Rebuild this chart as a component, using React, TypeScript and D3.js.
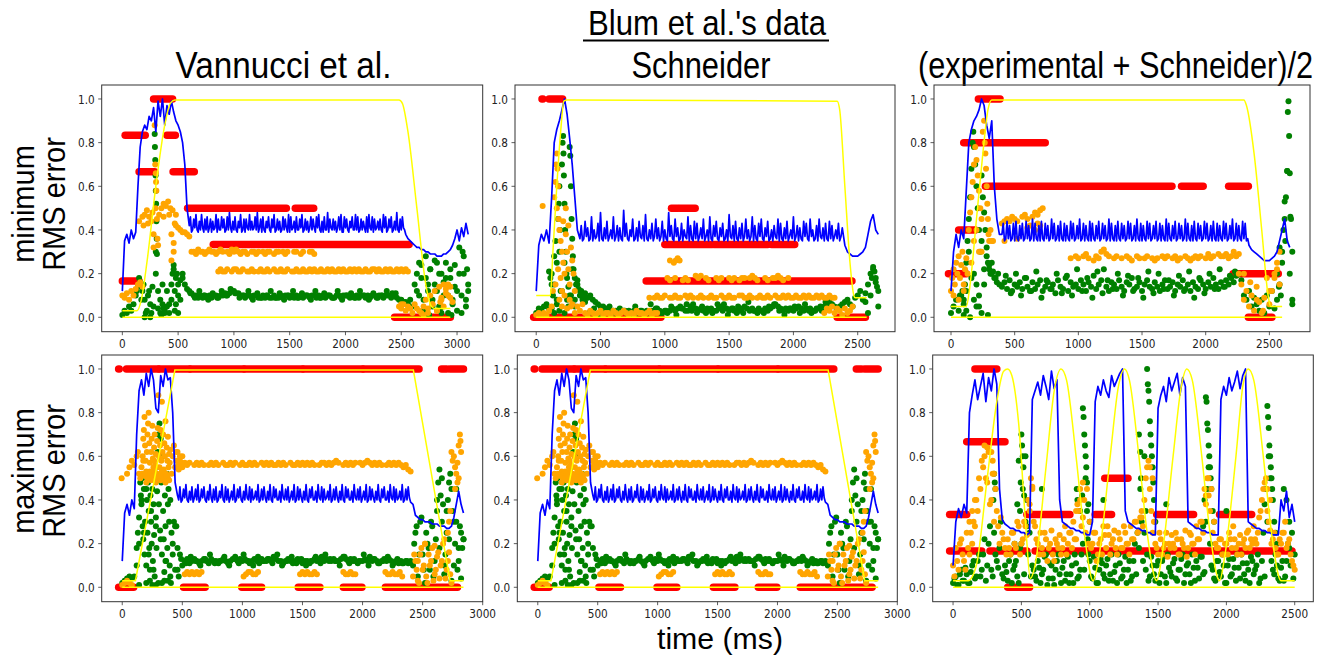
import React from "react";
import * as d3 from "d3";

type Pt = [number, number];
type Run = [number, number, number];

// ---------- labels & ticks ----------
const groupTitle = "Blum et al.'s data";
const columnTitles = ["Vannucci et al.", "Schneider", "(experimental + Schneider)/2"];
const rowLabels = [["minimum", "RMS error"], ["maximum", "RMS error"]];
const xLabel = "time (ms)";
const ticks3000 = [0, 500, 1000, 1500, 2000, 2500, 3000];
const ticks2500 = [0, 500, 1000, 1500, 2000, 2500];
const yTicks = [0, 0.2, 0.4, 0.6, 0.8, 1.0];

// ---------- data (values in hundredths; sampled series use 20 ms steps, steady blue stretches 10 ms) ----------
// Vannucci et al., minimum RMS error
const vanMinBlueHead = [
  12, 35, 38, 34, 40, 36, 39, 60, 78, 85,
  88, 86, 92, 90, 96, 85, 99, 92, 100, 88,
  97, 93, 99, 94, 90, 88, 85, 80, 70, 50,
];
const vanMinBlueSteady = [
  42, 46, 39, 40, 45, 41, 47, 40, 39, 44,
  40, 47, 41, 39, 45, 40, 46, 39, 41, 45,
  39, 44, 40, 41, 47, 39, 45, 40, 40, 46,
  41, 45, 39, 40, 46, 40, 48, 41, 39, 44,
  40, 46, 40, 39, 44, 41, 47, 39, 40, 45,
  39, 45, 41, 40, 47, 40, 44, 40, 41, 46,
  40, 48, 39, 41, 45, 39, 46, 40, 39, 44,
  41, 46, 40, 39, 45, 41, 47, 39, 40, 45,
  40, 44, 39, 40, 46, 40, 45, 41, 39, 47,
  39, 46, 40, 41, 44, 39, 46, 40, 40, 45,
  41, 47, 39, 40, 45, 40, 44, 39, 41, 46,
  40, 45, 41, 39, 46, 41, 47, 40, 39, 44,
  39, 46, 40, 40, 48, 39, 45, 41, 40, 45,
  40, 44, 39, 41, 46, 40, 47, 39, 39, 46,
  41, 45, 40, 39, 44, 41, 46, 40, 40, 47,
  40, 46, 39, 40, 45, 40, 44, 41, 39, 46,
  39, 47, 41, 40, 46, 39, 45, 40, 41, 44,
  40, 45, 40, 39, 47, 41, 46, 39, 40, 45,
  41, 46, 39, 40, 44, 40, 48, 40, 39, 45,
  40, 46, 41, 40, 38,
];
const vanMinBlueTail = [36, 35, 34, 33, 32, 32, 31, 31, 30, 30, 29, 29, 29, 28, 28, 28, 29, 29, 30, 31, 33, 36, 40, 35, 41, 37, 43, 38];
const vanMinYellow = [0, 3, 130, 3, 170, 8, 220, 25, 300, 60, 380, 88, 430, 98, 470, 99.5, 2480, 99.5, 2510, 98, 2560, 85, 2640, 50, 2720, 15, 2770, 5, 2800, 4, 2940, 4];
const vanMinYellowBase = [0, 0, 2940, 0];
const vanMinGreen = [
  1, 3, 2, 5, 3, 6, 10, 14, 16, 12,
  8, 3, 12, 2, 5, 30, 4, 2, 6, 3,
  5, 2, 8, 22, 18, 15, 17, 18, 15, 13,
  12, 11, 10, 10, 9, 10, 9, 10, 9, 10,
  9, 10, 10, 9, 10, 10, 11, 10, 11, 12,
  12, 11, 11, 10, 10, 9, 10, 10, 9, 10,
  10, 9, 9, 10, 9, 10, 9, 9, 10, 9,
  9, 10, 9, 10, 10, 9, 10, 9, 10, 9,
  10, 9, 10, 10, 9, 10, 10, 9, 10, 9,
  10, 9, 10, 10, 9, 9, 10, 10, 9, 10,
  10, 10, 9, 10, 9, 10, 9, 10, 10, 9,
  10, 9, 10, 10, 9, 10, 10, 9, 10, 10,
  10, 11, 10, 9, 8, 8, 7, 7, 6, 8,
  5, 15, 20, 10, 24, 3, 18, 12, 22, 8,
  15, 25, 5, 20, 10, 18, 2, 22, 8, 14,
  3, 20, 10, 28, 5, 15,
];
const vanMinGreenBand = [11, 9, 12, 10, 8, 11, 9, 12, 10, 13, 11, 9, 10, 12, 8, 11, 9, 10, 12, 9, 11, 8, 10, 12, 9, 11, 10, 8, 12, 9, 11, 10, 9, 12, 8, 10, 11, 9, 12, 10, 8, 11, 9, 10, 12, 9, 11, 8];
const vanMinGreenScatter = [
  130, 12, 150, 18, 170, 8, 190, 15, 210, 2, 230, 10, 250, 6, 270, 14, 290, 84, 292, 78, 295, 72, 298, 65, 300, 58, 303, 52, 305, 44, 308, 36,
  310, 29, 300, 20, 320, 12, 340, 8, 360, 15, 380, 2, 400, 12, 420, 6, 440, 15, 450, 20, 460, 24, 470, 12, 480, 6, 490, 20, 500, 10, 520, 8,
  540, 20, 350, 1, 370, 4, 470, 3, 500, 2, 200, 0, 250, 0, 2640, 12, 2660, 25, 2680, 18, 2700, 8, 2720, 28, 2740, 15, 2760, 22, 2780, 5,
  2800, 26, 2820, 12, 2840, 20, 2860, 2, 2880, 16, 2900, 25, 2920, 10, 2940, 18, 2960, 6, 2980, 24, 3000, 12, 3020, 32, 3040, 2, 3060, 20,
  3080, 8, 3100, 12, 2700, 2, 2750, 1, 2850, 4, 2950, 1, 3050, 30, 3090, 22,
];
const vanMinOrangeHigh = [
  30, 30, 29, 31, 30, 30, 29, 30, 31, 30,
  30, 29, 30, 31, 30, null, 30, 29, 31, 30,
  31, 30, 29, 30, 30, 29, null, 30, 30, 29,
  30, null, 30, 29, 30, 30, null, 29, 30, 30,
  null, 30, 29, 30, null, null, 30, 30, null, 29,
  30, null, null, 30, 30, 29,
];
const vanMinOrangeLow = [
  21, 22, 21, 21, 22, null, 21, 22, 22, 21,
  21, 22, null, 21, 21, 22, 21, null, 21, 22,
  21, 21, 22, 21, null, 22, 21, 21, 22, 21,
  21, 22, null, 21, 21, 22, 21, 21, 22, 21,
  21, 22, 21, 22, 21, 21, 22, 21, 21, 22,
  21, 22, 21, 21, 22, 21, 22, 21, 21, 22,
  21, 22, 21, 22, 21, 21, 22, 21, 21, 22,
  22, 21, 22, 21, 21, 22, 21, 22, 21, 21,
  22, 21, 22, 21, 22, 21,
];
const vanMinOrangeTail = [5, 4, 6, 3, 5, 4, 2, 6, 4, 3, 2, 5, 8, 4, 10, 6, 12, 3, 14, 8, 5, 11, 15, 9, 7];
const vanMinOrangeScatter = [
  0, 10, 20, 9, 40, 11, 60, 8, 80, 12, 100, 10, 120, 13, 140, 15, 160, 16, 180, 14, 150, 44, 180, 46, 200, 47, 220, 49, 240, 46, 260, 44,
  190, 42, 230, 43, 270, 48, 280, 38, 290, 88, 295, 70, 300, 66, 302, 62, 305, 58, 298, 50, 310, 45, 315, 36, 320, 33, 280, 32, 330, 47,
  350, 50, 370, 52, 390, 51, 410, 53, 430, 50, 450, 49, 370, 46, 420, 47, 440, 38, 460, 34, 480, 42, 500, 41, 520, 40, 540, 39, 560, 39,
  580, 38, 600, 37, 440, 26, 460, 30, 470, 43, 480, 47, 2700, 1, 2740, 2, 2780, 6, 2820, 3, 2860, 9, 2900, 13, 2920, 10, 2940, 14,
  2880, 15, 2850, 7, 2500, 6,
];
const vanMinRed = [0, 150, 1 / 6, 25, 205, 5 / 6, 150, 290, 2 / 3, 280, 450, 1, 400, 475, 5 / 6, 455, 645, 2 / 3, 585, 1470, 0.5, 1550, 1715, 0.5, 815, 2570, 1 / 3, 2440, 2940, 0];

// Schneider, minimum RMS error
const schMinBlueHead = [12, 33, 38, 35, 40, 34, 55, 80, 86, 90, 95, 100, 93, 82, 70, 55, 40];
const schMinBlueSteady = [
  36, 42, 35, 36, 44, 37, 41, 35, 36, 46,
  35, 40, 36, 37, 43, 35, 48, 36, 35, 41,
  36, 44, 35, 37, 40, 36, 46, 35, 37, 42,
  35, 41, 36, 35, 49, 37, 43, 36, 35, 40,
  37, 45, 35, 36, 41, 35, 44, 37, 36, 42,
  35, 47, 36, 35, 40, 36, 43, 35, 37, 45,
  36, 41, 35, 37, 44, 35, 40, 36, 35, 48,
  37, 42, 36, 35, 45, 37, 41, 35, 36, 43,
  35, 40, 37, 36, 46, 35, 42, 36, 35, 44,
  36, 43, 35, 37, 41, 36, 45, 35, 37, 40,
  35, 46, 36, 35, 42, 37, 44, 36, 35, 41,
  37, 43, 35, 36, 40, 35, 47, 37, 36, 42,
  35, 44, 36, 35, 41, 36, 43, 35, 37, 45,
  36, 40, 35, 37, 46, 35, 42, 36, 35, 43,
  37, 45, 36, 35, 41, 37, 44, 35, 36, 40,
  35, 42, 37, 36, 45, 35, 43, 36, 35, 41,
  36, 44, 35, 37, 40, 36, 46, 35, 37, 42,
  35, 41, 36, 35, 44, 37, 43, 36, 35, 45,
  37, 40, 35, 36, 42, 35, 45, 37, 36, 41,
  35, 43, 36, 35, 44, 36, 42, 35, 37, 40,
  36, 43, 35, 37, 41,
];
const schMinBlueTail = [33, 30, 29, 28, 28, 28, 29, 30, 32, 38, 44, 47, 40, 38];
const schMinYellow = [0, 10, 110, 10, 130, 30, 160, 60, 190, 85, 215, 99, 240, 99.5, 2340, 99, 2360, 95, 2400, 60, 2440, 25, 2470, 10, 2480, 9, 2570, 9];
const schMinYellowBase = [0, 0, 2570, 0];
const schMinGreen = [
  2, 4, 3, 5, 6, 4, 20, 15, 8, 30,
  12, 25, 18, 10, 22, 8, 15, 12, 10, 11,
  9, 10, 8, 7, 6, 5, 5, 4, 4, 3,
  3, 3, 2, 3, 3, 2, 3, 2, 3, 2,
  2, 3, 2, 3, 2, 3, 3, 4, 3, 2,
  3, 2, 3, 4, 3, 4, 5, 4, 3, 3,
  5, 6, 4, 3, 4, 3, 2, 3, 4, 3,
  3, 4, 5, 6, 4, 3, 4, 3, 2, 3,
  4, 5, 4, 3, 4, 3, 2, 3, 3, 4,
  3, 4, 5, 6, 5, 4, 3, 4, 3, 4,
  3, 4, 5, 4, 3, 4, 3, 2, 3, 4,
  4, 3, 5, 6, 7, 6, 5, 4, 5, 6,
  7, 8, 6, 5, 9, 10, 12, 8, 11, 15,
  20, 22, 18, 12,
];
const schMinGreenBand = [2, 4, 1, 3, 5, 2, 4, 3, 1, 5, 3, 2, 6, 4, 2, 3, 5, 1, 4, 6, 3, 2, 5, 4, 2, 6, 3, 1, 4, 5, 2, 7, 3, 4, 2, 5, 6, 3, 1, 4, 5, 2, 6, 4, 3, 5, 7, 6];
const schMinGreenScatter = [
  100, 21, 110, 18, 120, 15, 130, 10, 140, 28, 150, 35, 160, 25, 170, 45, 175, 52, 180, 60, 185, 40, 190, 12, 200, 70, 205, 80, 209, 83,
  212, 75, 215, 65, 220, 52, 225, 40, 230, 30, 235, 20, 240, 8, 250, 14, 260, 78, 265, 74, 270, 60, 275, 45, 280, 36, 285, 28, 290, 22,
  300, 18, 310, 15, 320, 17, 330, 13, 340, 10, 350, 12, 360, 8, 370, 9, 380, 7, 220, 2, 250, 5, 180, 3, 160, 6, 270, 10, 300, 5, 140, 2,
  120, 4, 2600, 10, 2610, 18, 2620, 23, 2630, 21, 2640, 16, 2650, 14, 2660, 5, 2580, 2, 2560, 7,
];
const schMinOrangeEarly = [2, 1, 3, 2, 1, 2, 3, 1, 2, 2, 1, 3, 2, 1, 2, 3, 2, 1, 2, 1, 3, 2, 2, 1, 2, 3, 1, 2, 2];
const schMinOrangeMid = [
  18, 17, null, 18, null, null, 17, 18, 17, null,
  null, 19, 18, 19, null, 18, 17, null, null, 18,
  17, 18, null, null, 18, 17, 18, null, 17, 18,
  18, null, 18, 19, 18, 17, null, null, 18, 17,
  null, 18, 18, 19, 18, 17, null, 18,
];
const schMinOrangeLow = [
  9, null, 9, 10, 9, 9, 10, null, 9, 9,
  10, 9, 9, null, 10, 9, 10, 9, null, 9,
  10, 9, null, 9, 10, 9, 9, null, 10, 9,
  9, 10, 9, 9, null, 10, 10, 9, 9, 10,
  9, null, 9, 10, 9, 9, 10, 9, null, 10,
  9, 9, 10, 9, 10, 9, 9, 10, 9, 9,
  10, 9, 10, 9, 9, 10, 9, 10, 9, 9,
  10, 9, 9,
];
const schMinOrangeTail = [2, 4, 3, 5, 2, 4, 3, 1, 4, 2, 3, 5];
const schMinOrangeScatter = [
  50, 51, 0, 1, 20, 2, 40, 1, 60, 2, 80, 1, 100, 3, 140, 55, 150, 62, 155, 70, 160, 75, 165, 68, 170, 60, 160, 50, 175, 45, 180, 40,
  190, 35, 200, 30, 210, 25, 220, 20, 230, 38, 240, 30, 250, 22, 260, 15, 270, 32, 280, 26, 290, 20, 300, 12, 180, 8, 200, 5, 220, 10,
  240, 4, 260, 8, 280, 6, 300, 2, 320, 5, 340, 3, 360, 6, 150, 15, 170, 22, 190, 18, 130, 12, 120, 5, 250, 42, 230, 50, 210, 44, 200, 12,
  270, 5, 1040, 26, 1070, 25, 1085, 26, 1100, 27, 1115, 26,
];
const schMinRed = [-20, 970, 0, 2340, 2560, 0, 45, 52, 1, 100, 205, 1, 1052, 1100, 0.5, 1118, 1236, 0.5, 1000, 1370, 1 / 3, 1385, 1800, 1 / 3, 1830, 2010, 1 / 3, 855, 2455, 1 / 6];

// (experimental + Schneider)/2, minimum RMS error
const avgMinBlueHead = [12, 30, 38, 32, 40, 36, 58, 80, 86, 90, 92, 95, 100, 97, 88, 82, 90, 60, 45, 38];
const avgMinBlueSteady = [
  38, 43, 35, 36, 44, 36, 42, 35, 36, 43,
  35, 44, 36, 35, 42, 36, 43, 35, 36, 44,
  36, 42, 35, 36, 45, 35, 43, 36, 35, 42,
  35, 44, 36, 35, 43, 36, 42, 35, 36, 45,
  36, 43, 35, 36, 42, 35, 44, 36, 35, 43,
  35, 42, 36, 35, 44, 36, 43, 35, 36, 42,
  36, 45, 35, 36, 43, 35, 42, 36, 35, 44,
  35, 43, 36, 35, 42, 36, 44, 35, 36, 43,
  36, 42, 35, 36, 45, 35, 43, 36, 35, 42,
  35, 44, 36, 35, 43, 36, 42, 35, 36, 44,
  36, 43, 35, 36, 42, 35, 45, 36, 35, 43,
  35, 42, 36, 35, 44, 36, 43, 35, 36, 42,
  36, 44, 35, 36, 43, 35, 42, 36, 35, 45,
  35, 43, 36, 35, 42, 36, 44, 35, 36, 43,
  36, 42, 35, 36, 45, 35, 43, 36, 35, 42,
  35, 44, 36, 35, 43, 36, 42, 35, 36, 44,
  36, 43, 35, 36, 42, 35, 44, 36, 35, 43,
  35, 42, 36, 35, 44, 36, 43, 35, 36, 42,
  36, 45, 35, 36, 43, 35, 42, 36, 35, 44,
  36, 43, 35, 36,
];
const avgMinBlueTail = [33, 31, 30, 29, 28, 27, 26, 26, 26, 27, 28, 30, 35, 40, 45, 35, 32];
const avgMinYellow = [0, 5, 120, 5, 150, 15, 200, 45, 250, 75, 290, 95, 320, 99.5, 2300, 99.5, 2320, 97, 2380, 75, 2440, 40, 2490, 10, 2510, 5, 2600, 5];
const avgMinYellowBase = [0, 0, 2600, 0];
const avgMinGreen = [
  2, 5, 8, 3, 10, 6, 12, 30, 18, 8,
  15, 5, 35, 22, 28, 24, 20, 18, 16, 15,
  14, 16, 13, 17, 12, 15, 14, 16, 13, 18,
  14, 12, 16, 13, 15, 17, 12, 14, 16, 13,
  15, 11, 17, 14, 13, 18, 12, 16, 14, 15,
  13, 17, 15, 12, 16, 14, 19, 13, 15, 17,
  22, 14, 12, 16, 15, 13, 17, 14, 12, 16,
  15, 18, 13, 14, 16, 12, 15, 17, 14, 13,
  16, 14, 12, 15, 17, 13, 14, 16, 12, 15,
  14, 17, 13, 15, 12, 16, 14, 13, 17, 15,
  13, 16, 14, 18, 15, 13, 16, 14, 17, 15,
  18, 16, 19, 20, 17, 10, 8, 12, 5, 9,
  6, 3, 8, 2, 10, 5, 12, 4, 8, 15,
  30, 45, 67, 20, 8,
];
const avgMinGreenBand = [19, 11, 20, 10, 18, 12, 21, 9, 17, 13, 20, 11, 19, 10, 22, 12, 18, 9, 21, 11, 17, 13, 20, 10, 19, 12, 18, 9, 21, 11, 20, 13, 17, 10, 19, 12, 21, 9, 18, 11, 20, 13, 22, 14, 19, 21];
const avgMinGreenScatter = [
  70, 10, 90, 12, 100, 8, 110, 15, 120, 25, 130, 35, 140, 45, 150, 55, 160, 68, 170, 80, 175, 85, 180, 78, 190, 70, 200, 60, 210, 50,
  220, 40, 230, 30, 240, 65, 250, 55, 260, 48, 270, 40, 280, 32, 290, 25, 300, 22, 180, 20, 200, 5, 220, 10, 240, 2, 260, 15, 290, 1,
  150, 0, 120, 3, 100, 1, 310, 20, 320, 25, 330, 21, 350, 18, 370, 20, 2650, 99, 2645, 94, 2655, 83, 2640, 67, 2660, 66, 2630, 55,
  2620, 53, 2665, 46, 2670, 45, 2610, 40, 2680, 30, 2600, 25, 2560, 20, 2590, 10, 2680, 6, 2575, 14, 2625, 35, 2580, 32,
];
const avgMinOrangeHigh = [43, 44, 45, 44, 46, 45, 44, null, 46, 47, 45, null, 46, 48, 47, 49, 50];
const avgMinOrangeBand = [
  27, null, 28, 27, null, 28, 29, 27, null, 26,
  28, 27, 30, 31, 29, 28, null, 27, 28, null,
  27, null, 28, 27, 26, null, 28, 27, null, 27,
  28, null, 27, 26, 27, null, 28, 27, 28, null,
  27, 28, 26, 27, null, 28, 27, 26, 27, 28,
  27, 28, null, 27, 29, 27, 28, null, 29, 28,
  28, 29, 27, 28, 30, 28, 29,
];
const avgMinOrangeTail = [20, 15, 8, 12, 5, 10, 3, 14, 7, 2, 9, 18, 6, 12, 20, 25, 15];
const avgMinOrangeScatter = [
  0, 12, 10, 18, 20, 22, 30, 15, 40, 25, 50, 20, 60, 28, 70, 18, 80, 24, 90, 30, 100, 15, 110, 22, 120, 27, 130, 20, 20, 10, 60, 8,
  100, 12, 140, 40, 150, 48, 160, 55, 170, 62, 180, 70, 190, 78, 200, 72, 210, 65, 220, 58, 230, 50, 240, 45, 250, 85, 260, 90, 265, 80,
  270, 75, 275, 68, 280, 60, 285, 52, 290, 45, 295, 38, 300, 35, 310, 40, 200, 40, 220, 30, 180, 35, 160, 25, 240, 30, 320, 35, 600, 41,
  620, 42, 660, 40, 680, 43, 700, 42, 420, 35, 330, 35, 520, 36, 2300, 20, 2350, 16, 2400, 8, 2450, 3, 2500, 12, 2560, 22, 2580, 30, 2540, 18,
];
const avgMinRed = [
  -20, 120, 0.2, 60, 190, 0.4, 215, 385, 1, 100, 180, 0.8, 195, 240, 0.8, 260, 380, 0.8, 400, 740, 0.8, 270, 320, 0.6, 335, 1735, 0.6,
  1810, 1980, 0.6, 2180, 2335, 0.6, 2215, 2570, 0.2, 2335, 2520, 0,
];

// Vannucci et al. and Schneider, maximum RMS error
const maxBlueHead = [12, 34, 38, 33, 40, 36, 70, 90, 95, 88, 98, 92, 100, 95, 82, 80, 97, 92, 100, 95, 96, 80, 48];
const maxBlueSteady = [
  42, 40, 46, 39, 40, 45, 41, 47, 40, 39,
  44, 40, 46, 39, 41, 45, 40, 47, 39, 40,
  45, 41, 46, 40, 39, 44, 40, 47, 41, 39,
  45, 40, 46, 39, 40, 44, 41, 47, 40, 39,
  46, 40, 45, 39, 41, 44, 40, 47, 39, 40,
  45, 41, 46, 40, 39, 44, 40, 47, 41, 40,
  46, 39, 45, 40, 41, 44, 40, 47, 39, 40,
  45, 40, 46, 41, 39, 44, 40, 47, 40, 39,
  46, 41, 45, 40, 40, 44, 39, 47, 41, 40,
  45, 40, 46, 39, 41, 44, 40, 47, 39, 40,
  46, 40, 45, 41, 39, 44, 40, 47, 40, 39,
  45, 41, 46, 40, 40, 44, 39, 47, 41, 40,
  46, 39, 45, 40, 41, 44, 40, 47, 39, 40,
  45, 40, 46, 41, 39, 44, 40, 47, 40, 39,
  46, 41, 45, 40, 40, 44, 39, 47, 41, 40,
  45, 40, 46, 39, 41, 44, 40, 47, 39, 40,
  46, 40, 45, 41, 39, 44, 40, 47, 40, 39,
  45, 41, 46, 40, 40, 44, 39, 47, 41, 40,
  46, 39, 45, 40, 41, 44, 40, 47, 39, 40,
  45, 40, 46, 41, 39,
];
const maxBlueTail = [38, 33, 32, 31, 31, 30, 30, 30, 29, 29, 29, 28, 28, 28, 27, 27, 28, 32, 38, 44, 38, 34];
const maxYellow = [0, 3, 110, 3, 438, 99.5, 2423, 99.5, 2728, 3, 2840, 3];
const maxYellowBase = [0, 0, 2840, 0];
const maxGreen = [
  2, 3, 4, 5, 4, 5, 10, 20, 40, 25,
  45, 15, 35, 8, 28, 50, 22, 60, 12, 38,
  5, 20, 28, 8, 15, 10, 12, 13, 11, 12,
  13, 12, 11, 12, 13, 12, 11, 13, 12, 12,
  11, 12, 13, 12, 11, 12, 13, 14, 12, 13,
  12, 13, 12, 11, 12, 13, 12, 11, 13, 12,
  12, 13, 12, 14, 13, 12, 12, 11, 12, 13,
  12, 11, 12, 13, 12, 11, 12, 12, 11, 12,
  13, 12, 13, 14, 12, 13, 12, 12, 13, 12,
  12, 13, 14, 13, 12, 13, 12, 12, 11, 12,
  12, 13, 12, 14, 12, 13, 12, 11, 12, 13,
  12, 13, 12, 11, 12, 11, 12, 11, 12, 11,
  12, 10, 25, 5, 30, 15, 2, 20, 8, 28,
  12, 40, 18, 50, 6, 35, 22, 45, 10, 30,
  18, 25, 22,
];
const maxGreenBand = [13, 11, 14, 12, 10, 13, 15, 11, 12, 14, 10, 13, 11, 15, 12, 10, 14, 12, 13, 11, 15, 10, 12, 14, 11, 13, 10, 12, 14, 11, 15, 13, 12, 10, 14, 11, 13, 12, 15, 10, 13, 11, 12, 14, 10, 13, 11, 12, 11];
const maxGreenScatter = [
  120, 18, 130, 25, 140, 32, 150, 48, 155, 42, 160, 38, 165, 50, 170, 28, 175, 22, 180, 45, 185, 15, 190, 30, 195, 52, 200, 10, 205, 40,
  210, 25, 215, 48, 220, 35, 225, 18, 230, 8, 235, 42, 240, 30, 245, 20, 250, 45, 255, 12, 260, 38, 265, 24, 270, 5, 275, 55, 280, 32,
  285, 18, 290, 44, 295, 62, 300, 70, 305, 38, 310, 75, 315, 26, 320, 68, 325, 48, 330, 15, 335, 60, 340, 35, 345, 22, 350, 7, 355, 42,
  360, 28, 365, 12, 370, 52, 375, 18, 380, 3, 385, 45, 390, 30, 395, 10, 400, 40, 405, 2, 410, 25, 420, 15, 430, 30, 440, 8, 450, 28,
  460, 18, 470, 5, 200, 2, 250, 1, 300, 2, 350, 3, 140, 1, 280, 1, 330, 2, 230, 3, 2430, 20, 2450, 28, 2470, 15, 2490, 32, 2510, 8,
  2530, 25, 2550, 18, 2570, 30, 2590, 5, 2610, 22, 2630, 48, 2640, 54, 2650, 42, 2660, 30, 2670, 38, 2690, 15, 2700, 25, 2720, 48,
  2730, 52, 2750, 35, 2770, 20, 2790, 8, 2810, 28, 2830, 18, 2840, 22, 2620, 35, 2680, 10, 2710, 40, 2740, 3, 2760, 30, 2780, 45,
  2800, 12, 2820, 4,
];
const maxOrangeBand = [
  57, 56, 57, null, 56, 57, 56, 57, 56, null,
  56, 57, 56, 57, 56, null, 57, 56, 56, 57,
  56, 57, null, 56, 57, 56, 56, 57, 56, 57,
  56, null, 57, 56, 57, 56, 57, 56, 56, 57,
  56, 57, 56, null, 57, 56, 56, 57, 56, 57,
  56, 57, 56, 57, 56, null, 56, 57, 57, 56,
  57, 56, 57, 58, 57, null, 56, 57, 56, 57,
  56, 57, null, 57, 56, 57, 58, 57, 56, 57,
  56, 57, 56, null, 56, 57, 56, 57, 56, 57,
  56, 55, 56, 54, 53,
];
const maxOrangeTail = [5, 12, 3, 15, 8, 20, 2, 10, 18, 6, 14, 4, 12, 22, 8, 16];
const maxOrangeScatter = [
  -5, 50, 0, 1, 20, 2, 40, 3, 60, 2, 80, 1, 40, 52, 60, 55, 80, 58, 100, 56, 120, 60, 140, 52, 130, 62,
  150, 50, 160, 55, 170, 60, 175, 68, 180, 72, 185, 78, 190, 65, 195, 58, 200, 53, 205, 62, 210, 70, 215, 75, 220, 80, 225, 66,
  230, 57, 235, 50, 240, 62, 245, 68, 250, 74, 255, 59, 260, 52, 265, 64, 270, 70, 275, 56, 280, 61, 285, 50, 290, 67, 295, 73,
  300, 88, 305, 60, 310, 55, 315, 65, 320, 72, 325, 58, 330, 85, 335, 62, 340, 70, 345, 54, 350, 66, 355, 60, 360, 76, 365, 52,
  370, 64, 375, 58, 380, 69, 385, 55, 390, 61, 395, 57, 400, 63, 410, 52, 420, 60, 430, 65, 440, 55, 450, 62, 460, 58, 470, 56,
  480, 60, 490, 57, 500, 55, 220, 52, 260, 55, 300, 50, 340, 51, 380, 50, 200, 48, 240, 49, 280, 48, 320, 49, 360, 48, 170, 52,
  190, 51, 210, 50, 230, 53, 250, 51, 270, 53, 290, 52, 310, 51, 330, 53, 350, 50, 370, 51, 390, 49, 175, 58, 265, 58, 315, 59,
  480, 58, 500, 60, 490, 55, 460, 62, 470, 54, 450, 58,
  520, 6, 540, 7, 560, 6, 580, 7, 600, 6, 620, 7, 640, 6, 660, 7, 1010, 5, 1030, 6, 1050, 7, 1070, 7, 1090, 6, 1110, 6, 1130, 7,
  1480, 6, 1500, 7, 1520, 6, 1540, 7, 1560, 6, 1580, 6, 1600, 7, 1620, 6, 1840, 7, 1860, 6, 1880, 6, 1900, 7, 1920, 6, 1940, 6,
  2190, 7, 2210, 6, 2230, 6, 2250, 7, 2270, 6, 2290, 6, 2310, 7, 2330, 5,
  2430, 15, 2450, 8, 2470, 2, 2490, 18, 2510, 10, 2530, 5, 2550, 15, 2570, 12, 2590, 3, 2610, 8, 2630, 16, 2650, 10, 2670, 20,
  2690, 4, 2710, 12, 2730, 6, 2740, 2, 2520, 20, 2600, 19, 2460, 12,
  2740, 62, 2750, 58, 2760, 60, 2770, 55, 2780, 52, 2790, 57, 2800, 65, 2810, 70, 2815, 67, 2820, 62, 2790, 48, 2800, 50, 2770, 45,
  2720, 30, 2710, 25, 2730, 35,
];
const maxRed = [
  -30, -25, 1, 35, 300, 1, 308, 560, 1, 568, 1010, 1, 1018, 1500, 1, 1508, 2000, 1, 2008, 2470, 1, 2658, 2700, 1, 2728, 2840, 1,
  -30, 95, 0, 510, 690, 0, 995, 1160, 0, 1465, 1645, 0, 1840, 1995, 0, 2190, 2790, 0,
];

// (experimental + Schneider)/2, maximum RMS error
const avgMaxBlue = [
  10, 30, 36, 32, 38, 34, 80, 88, 95, 86,
  92, 98, 85, 96, 90, 100, 93, 45, 31, 29,
  28, 27, 27, 26, 26, 25, 25, 24, 25, 86,
  90, 94, 88, 97, 92, 86, 99, 91, 95, 40,
  30, 29, 28, 27, 27, 26, 26, 25, 25, 24,
  24, 30, 85, 92, 88, 95, 90, 87, 97, 92,
  95, 98, 100, 35, 30, 29, 28, 27, 27, 26,
  26, 25, 25, 24, 24, 82, 88, 92, 85, 96,
  90, 94, 98, 88, 96, 92, 30, 29, 28, 27,
  27, 26, 26, 25, 25, 24, 24, 24, 86, 92,
  88, 96, 90, 94, 99, 91, 97, 100, 30, 29,
  28, 27, 27, 26, 26, 25, 25, 24, 24, 24,
  40, 35, 44, 32, 38, 30,
];
const avgMaxYellow = [
  0, 3, 110, 3, 170, 10, 250, 50, 320, 85, 370, 99, 400, 100, 430, 97, 480, 75, 530, 30, 565, 4, 600, 10, 680, 55, 740, 90, 790, 100,
  830, 95, 900, 60, 960, 25, 1025, 3, 1070, 15, 1150, 60, 1210, 92, 1255, 100, 1290, 95, 1360, 60, 1420, 25, 1490, 3, 1530, 15, 1610, 60,
  1670, 92, 1710, 100, 1750, 95, 1820, 60, 1880, 25, 1950, 3, 1990, 15, 2070, 60, 2120, 92, 2160, 100, 2200, 95, 2270, 60, 2330, 25,
  2400, 3, 2500, 3,
];
const avgMaxYellowBase = [0, 0, 2500, 0];
const avgMaxGreenA = [
  2, 5, 1, 8, 3, 6, 2, 10, 4, 12,
  5, 15, 3, 20, 8, 25, 12, 18, 6, 10,
  3, 15, 8, 12, 2, 20, 6, 40, 25, 10,
  5, 12, 2, 8, 15, 4, 10, 1, 12, 6,
  9, 3, 14, 6, 2, 11, 5, 15, 8, 35,
  12, 4, 9, 2, 13, 6, 10, 3, 15, 7,
  2, 11, 5, 14, 8, 3, 12, 6, 18, 30,
  60, 15, 5, 10, 3, 12, 6, 14, 2, 9,
  5, 13, 3, 8, 15, 6, 11, 2, 9, 12,
  4, 14, 7, 45, 20, 8, 3, 12, 5, 10,
  2, 13, 6, 9, 15, 4, 11, 3, 8, 14,
  6, 10, 2, 12, 5, 30, 50, 8, 15, 4,
  9, 3, 12, 18, 25, 15,
];
const avgMaxGreenB = [
  4, 1, 6, 3, 9, 2, 7, 12, 5, 15,
  8, 22, 10, 28, 5, 15, 9, 30, 4, 7,
  12, 2, 10, 5, 18, 45, 60, 15, 5, 8,
  3, 9, 6, 14, 1, 11, 4, 8, 15, 2,
  12, 6, 2, 10, 15, 4, 8, 20, 50, 15,
  5, 14, 2, 8, 11, 4, 13, 6, 3, 10,
  15, 4, 8, 2, 12, 5, 20, 25, 45, 12,
  8, 3, 14, 6, 10, 2, 12, 5, 15, 7,
  11, 4, 8, 13, 2, 10, 6, 15, 3, 9,
  14, 6, 30, 55, 10, 4, 12, 7, 15, 2,
  10, 5, 13, 3, 9, 15, 6, 11, 2, 12,
  8, 15, 4, 25, 45, 60, 12, 6, 10, 3,
  12, 5, 20, 10, 4,
];
const avgMaxGreenScatter = [
  295, 40, 305, 48, 300, 52, 310, 45, 500, 70, 505, 65, 510, 60, 515, 55, 495, 48, 520, 42, 490, 35, 530, 30, 540, 28, 480, 58, 470, 38,
  450, 20, 950, 82, 955, 78, 960, 70, 965, 65, 970, 60, 975, 55, 980, 48, 945, 42, 990, 38, 1000, 30, 985, 22, 930, 35, 1420, 100,
  1425, 93, 1430, 90, 1435, 85, 1440, 76, 1445, 70, 1450, 65, 1455, 60, 1460, 55, 1465, 48, 1470, 40, 1410, 35, 1480, 30, 1400, 25,
  1850, 87, 1855, 85, 1860, 75, 1865, 72, 1870, 65, 1875, 60, 1880, 55, 1885, 50, 1890, 45, 1840, 40, 1900, 35, 1910, 30, 1830, 28,
  2300, 83, 2305, 78, 2310, 73, 2315, 65, 2320, 60, 2325, 55, 2330, 50, 2335, 45, 2340, 40, 2280, 38, 2350, 30, 2360, 25, 2370, 20,
  650, 45, 1100, 40, 1560, 38, 2000, 35, 2420, 45, 2440, 40, 2460, 30, 1360, 70, 1370, 62, 1375, 50, 905, 45, 910, 40,
];
const avgMaxOrangeA = [
  10, 18, 8, 22, 12, 25, 15, 20, 28, 35,
  45, 55, 50, 62, 40, 30, 35, 20, 25, 18,
  22, 15, 25, 18, 28, 20, 30, 24, 35, 45,
  28, 20, 25, 15, 22, 18, 26, 12, 20, 24,
  18, 28, 20, 25, 30, 22, 35, 28, 40, 45,
  30, 20, 25, 15, 22, 28, 18, 24, 20, 26,
  15, 22, 18, 25, 20, 28, 22, 30, 26, 35,
  40, 55, 45, 25, 20, 15, 22, 18, 25, 20,
  24, 18, 22, 15, 20, 26, 18, 24, 20, 28,
  22, 30, 45, 50, 35, 25, 20, 18, 22, 15,
  20, 25, 18, 22, 15, 24, 20, 18, 26, 22,
  28, 20, 32, 40, 48, 35, 26, 22, 18, 15,
  20, 25, 18, 22, 12, 8,
];
const avgMaxOrangeB = [
  5, 12, 20, 15, 8, 18, 25, 30, 40, 50,
  58, 65, 48, 38, 52, 45, 28, 32, 22, 15,
  18, 25, 20, 30, 15, 22, 28, 40, 50, 30,
  22, 15, 18, 25, 12, 20, 15, 22, 18, 15,
  22, 15, 25, 18, 22, 38, 45, 32, 25, 20,
  18, 25, 12, 20, 15, 24, 28, 15, 22, 18,
  25, 18, 28, 20, 15, 22, 30, 25, 32, 28,
  50, 58, 35, 30, 18, 25, 15, 20, 14, 18,
  20, 25, 15, 22, 18, 14, 25, 20, 15, 22,
  30, 25, 38, 42, 45, 30, 18, 22, 15, 20,
  15, 22, 28, 18, 20, 15, 22, 25, 18, 20,
  22, 25, 35, 45, 50, 30, 20, 25, 15, 22,
  25, 30, 20, 15, 10,
];
const avgMaxOrangeScatter = [
  280, 62, 290, 58, 300, 52, 250, 64, 230, 60, 580, 46, 560, 38, 950, 48, 930, 40, 1440, 55, 1460, 50, 1870, 50, 1850, 42, 2300, 45,
  2320, 40, 120, 30, 140, 35, 160, 40, 900, 35, 1380, 32,
];
const avgMaxRed = [
  -25, 100, 1 / 3, -25, 210, 1 / 6, 160, 320, 1, 100, 380, 2 / 3, 400, 560, 0, 270, 300, 1 / 6, 330, 420, 1 / 6, 440, 540, 1 / 6,
  540, 855, 1 / 3, 600, 760, 1 / 6, 780, 1100, 1 / 6, 1120, 1300, 1 / 6, 1320, 1480, 1 / 6, 1500, 1660, 1 / 6, 1680, 1880, 1 / 6,
  1900, 2100, 1 / 6, 2120, 2300, 1 / 6, 2320, 2480, 1 / 6, 1110, 1280, 0.5, 1040, 1160, 1 / 3, 1490, 1760, 1 / 3, 1950, 2185, 1 / 3,
];

// ---------- helpers turning the arrays into points ----------
const STEP = 20;
const seq = (vals: (number | null)[], t0 = 0, step = STEP): Pt[] =>
  vals.flatMap((v, i) => (v == null ? [] : [[t0 + i * step, v / 100] as Pt]));
const pairs = (flat: number[]): Pt[] => {
  const out: Pt[] = [];
  for (let i = 0; i + 1 < flat.length; i += 2) out.push([flat[i], flat[i + 1] / 100]);
  return out;
};
const runs = (flat: number[]): Run[] => {
  const out: Run[] = [];
  for (let i = 0; i + 2 < flat.length; i += 3) out.push([flat[i], flat[i + 1], flat[i + 2]]);
  return out;
};
// head at 20 ms, steady stretch at 10 ms, tail at 20 ms
const trace = (head: number[], steady: number[], steadyStart: number, tail: number[], tailStart: number): Pt[] => [
  ...seq(head, 0, 20), ...seq(steady, steadyStart, 10), ...seq(tail, tailStart, 20),
];

// ---------- colours & layout ----------
const RED = "#ff0000";
const ORANGE = "#ffa500";
const GREEN = "#008000";
const BLUE = "#0000ff";
const YELLOW = "#ffff00";
const Y_DOMAIN: [number, number] = [-0.066, 1.064];
const TOP = { y0: 85, y1: 331.7 };
const BOTTOM = { y0: 355, y1: 601.7 };
const TICK_FONT = "'DejaVu Sans', sans-serif";
const TITLE_FONT = "'Liberation Sans', Arial, sans-serif";

interface Spec {
  x0: number; x1: number; y0: number; y1: number;
  t0: number; t1: number; ticks: number[];
  blue: Pt[]; yellow: Pt[]; yellowBase: Pt[]; smooth: boolean;
  green: Pt[]; orange: Pt[]; red: Run[];
}

const maxPanel = (x0: number, x1: number): Spec => ({
  x0, x1, ...BOTTOM, t0: -171, t1: 3000, ticks: ticks3000,
  blue: trace(maxBlueHead, maxBlueSteady, 460, maxBlueTail, 2420),
  yellow: pairs(maxYellow), yellowBase: pairs(maxYellowBase), smooth: false,
  green: [...seq(maxGreen), ...seq(maxGreenBand, 490, 40), ...pairs(maxGreenScatter)],
  orange: [...seq(maxOrangeBand, 520), ...seq(maxOrangeTail, 2420), ...pairs(maxOrangeScatter)],
  red: runs(maxRed),
});

const panels: Spec[] = [
  {
    x0: 101.7, x1: 482.7, ...TOP, t0: -185, t1: 3230, ticks: ticks3000,
    blue: trace(vanMinBlueHead, vanMinBlueSteady, 600, vanMinBlueTail, 2560),
    yellow: pairs(vanMinYellow), yellowBase: pairs(vanMinYellowBase), smooth: true,
    green: [...seq(vanMinGreen), ...seq(vanMinGreenBand, 610, 40), ...pairs(vanMinGreenScatter)],
    orange: [...seq(vanMinOrangeHigh, 620), ...seq(vanMinOrangeLow, 860), ...seq(vanMinOrangeTail, 2480), ...pairs(vanMinOrangeScatter)],
    red: runs(vanMinRed),
  },
  {
    x0: 515, x1: 895, ...TOP, t0: -165, t1: 2790, ticks: ticks2500,
    blue: trace(schMinBlueHead, schMinBlueSteady, 340, schMinBlueTail, 2400),
    yellow: pairs(schMinYellow), yellowBase: pairs(schMinYellowBase), smooth: true,
    green: [...seq(schMinGreen), ...seq(schMinGreenBand, 410, 40), ...pairs(schMinGreenScatter)],
    orange: [...seq(schMinOrangeEarly, 380), ...seq(schMinOrangeMid, 1020), ...seq(schMinOrangeLow, 880), ...seq(schMinOrangeTail, 2240), ...pairs(schMinOrangeScatter)],
    red: runs(schMinRed),
  },
  {
    x0: 934, x1: 1310, ...TOP, t0: -133.5, t1: 2819, ticks: ticks2500,
    blue: trace(avgMinBlueHead, avgMinBlueSteady, 400, avgMinBlueTail, 2340),
    yellow: pairs(avgMinYellow), yellowBase: pairs(avgMinYellowBase), smooth: true,
    green: [...seq(avgMinGreen), ...seq(avgMinGreenBand, 430, 40), ...pairs(avgMinGreenScatter)],
    orange: [...seq(avgMinOrangeHigh, 400), ...seq(avgMinOrangeBand, 940), ...seq(avgMinOrangeTail, 2260), ...pairs(avgMinOrangeScatter)],
    red: runs(avgMinRed),
  },
  maxPanel(101.7, 482.7),
  maxPanel(517.3, 897.3),
  {
    x0: 932.7, x1: 1313.3, ...BOTTOM, t0: -149, t1: 2636, ticks: ticks2500,
    blue: seq(avgMaxBlue), yellow: pairs(avgMaxYellow), yellowBase: pairs(avgMaxYellowBase), smooth: true,
    green: [...seq(avgMaxGreenA), ...seq(avgMaxGreenB, 10), ...pairs(avgMaxGreenScatter)],
    orange: [...seq(avgMaxOrangeA), ...seq(avgMaxOrangeB, 10), ...pairs(avgMaxOrangeScatter)],
    red: runs(avgMaxRed),
  },
];

// Condensed text: glyphs are drawn taller than their advance width.
function Txt(props: {
  x: number; y: number; k: number; size: number; family: string; anchor?: string;
  rotate?: number; length?: number; fill?: string; children: React.ReactNode;
}) {
  const { x, y, k, size, family, anchor = "middle", rotate, length, fill = "#000", children } = props;
  const tf = `translate(${x},${y})${rotate ? ` rotate(${rotate})` : ""} scale(1,${k})`;
  return (
    <text transform={tf} textAnchor={anchor} fontSize={size} fontFamily={family} fill={fill}
      textLength={length} lengthAdjust={length ? "spacingAndGlyphs" : undefined}>
      {children}
    </text>
  );
}

function Panel({ s, id }: { s: Spec; id: string }) {
  const x = d3.scaleLinear().domain([s.t0, s.t1]).range([s.x0, s.x1]);
  const y = d3.scaleLinear().domain(Y_DOMAIN).range([s.y1, s.y0]);
  const line = d3.line<Pt>().x((d) => x(d[0])).y((d) => y(d[1]));
  const yLine = d3.line<Pt>().x((d) => x(d[0])).y((d) => y(d[1]))
    .curve(s.smooth ? d3.curveMonotoneX : d3.curveLinear);
  const fmt = d3.format(".1f");
  return (
    <g>
      <defs>
        <clipPath id={id}>
          <rect x={s.x0} y={s.y0} width={s.x1 - s.x0} height={s.y1 - s.y0} />
        </clipPath>
      </defs>
      <g clipPath={`url(#${id})`}>
        {s.red.map(([a, b, v], i) => (
          <line key={`r${i}`} x1={x(a)} x2={x(b)} y1={y(v)} y2={y(v)} stroke={RED} strokeWidth={7.5} strokeLinecap="round" />
        ))}
        {s.green.map(([t, v], i) => (
          <circle key={`g${i}`} cx={x(t)} cy={y(v)} r={3} fill={GREEN} />
        ))}
        {s.orange.map(([t, v], i) => (
          <circle key={`o${i}`} cx={x(t)} cy={y(v)} r={3} fill={ORANGE} />
        ))}
        <path d={line(s.blue) ?? ""} fill="none" stroke={BLUE} strokeWidth={1.7} strokeLinejoin="round" />
        <path d={line(s.yellowBase) ?? ""} fill="none" stroke={YELLOW} strokeWidth={1.5} />
        <path d={yLine(s.yellow) ?? ""} fill="none" stroke={YELLOW} strokeWidth={1.5} />
      </g>
      <rect x={s.x0} y={s.y0} width={s.x1 - s.x0} height={s.y1 - s.y0} fill="none" stroke="#333" strokeWidth={1} />
      {yTicks.map((v) => (
        <g key={`yt${v}`}>
          <line x1={s.x0 - 3.5} x2={s.x0} y1={y(v)} y2={y(v)} stroke="#333" strokeWidth={0.8} />
          <Txt x={s.x0 - 7} y={y(v) + 4.6} k={1.2} size={10.5} family={TICK_FONT} anchor="end" fill="#222">{fmt(v)}</Txt>
        </g>
      ))}
      {s.ticks.map((t) => (
        <g key={`xt${t}`}>
          <line x1={x(t)} x2={x(t)} y1={s.y1} y2={s.y1 + 3.5} stroke="#333" strokeWidth={0.8} />
          <Txt x={x(t)} y={s.y1 + 16} k={1.2} size={10.5} family={TICK_FONT} fill="#222">{String(t)}</Txt>
        </g>
      ))}
    </g>
  );
}

export default function App() {
  const titleX = [283.5, 701, 1115.5];
  const titleW = [216, 139, 395];
  const rowY = [204, 471];
  return (
    <svg width={1329} height={658} viewBox="0 0 1329 658"
      style={{ position: "absolute", left: 0, top: 0, background: "#fff", display: "block" }}>
      <rect width={1329} height={658} fill="#fff" />
      <Txt x={707} y={35} k={1.15} size={30} family={TITLE_FONT} length={238}>{groupTitle}</Txt>
      <line x1={583} x2={829} y1={40.5} y2={40.5} stroke="#000" strokeWidth={1.8} />
      {columnTitles.map((t, i) => (
        <Txt key={t} x={titleX[i]} y={78} k={1.2} size={31} family={TITLE_FONT} length={titleW[i]}>{t}</Txt>
      ))}
      {rowLabels.map((lines, r) => (
        <g key={`row${r}`}>
          <Txt x={34} y={rowY[r]} k={1.05} size={29} family={TITLE_FONT} rotate={-90}>{lines[0]}</Txt>
          <Txt x={65} y={rowY[r]} k={1.05} size={29} family={TITLE_FONT} rotate={-90}>{lines[1]}</Txt>
        </g>
      ))}
      {panels.map((p, i) => (
        <Panel key={i} s={p} id={`clip${i}`} />
      ))}
      <Txt x={720} y={649} k={1.0} size={30} family={TITLE_FONT} length={126}>{xLabel}</Txt>
    </svg>
  );
}
